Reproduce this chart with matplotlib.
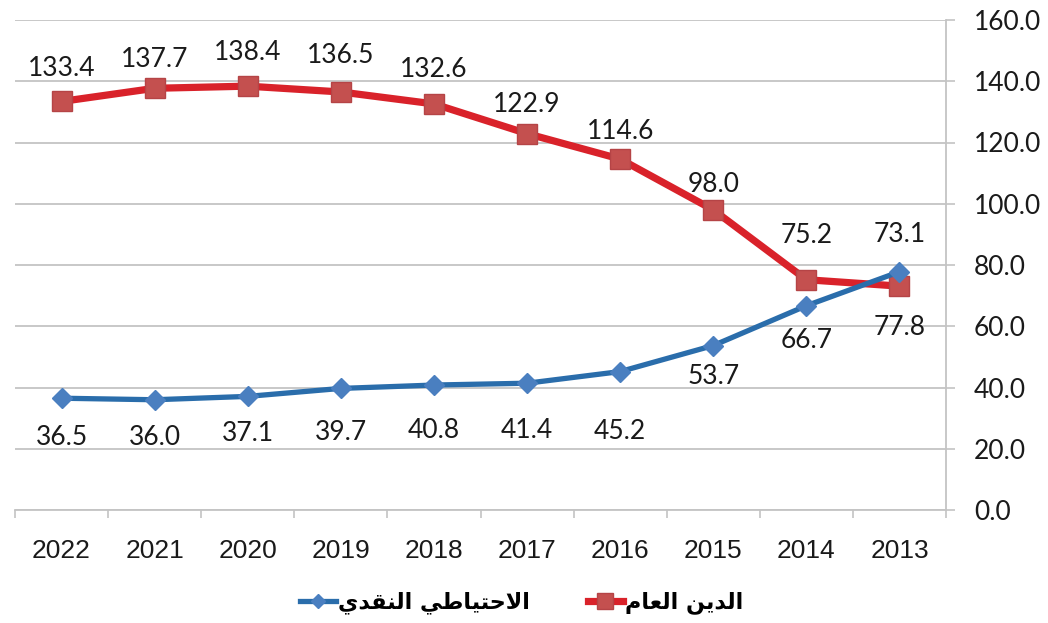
import numpy as np
import matplotlib
matplotlib.use('Agg')
import matplotlib.pyplot as plt

# السنوات (من اليسار إلى اليمين كما في الرسم)
years = ['2022', '2021', '2020', '2019', '2018', '2017', '2016', '2015', '2014', '2013']
# الدين العام
debt = [133.4, 137.7, 138.4, 136.5, 132.6, 122.9, 114.6, 98.0, 75.2, 73.1]
# الاحتياطي النقدي
reserve = [36.5, 36.0, 37.1, 39.7, 40.8, 41.4, 45.2, 53.7, 66.7, 77.8]

debt_name = 'الدين العام'
reserve_name = 'الاحتياطي النقدي'

# vertical offsets (points) of the value labels
debt_lab_dy = [24, 21, 24, 26, 25, 21, 20, 18, 32, 37]
reserve_lab_dy = [-28, -27, -27, -32, -33, -34, -43, -22, -25, -40]

# matplotlib doesn't shape Arabic, so map letters to presentation forms by hand
FORMS = {
    'ا': ('\ufe8d', '\ufe8e', None, None),
    'د': ('\ufea9', '\ufeaa', None, None),
    'ل': ('\ufedd', '\ufede', '\ufedf', '\ufee0'),
    'ي': ('\ufef1', '\ufef2', '\ufef3', '\ufef4'),
    'ن': ('\ufee5', '\ufee6', '\ufee7', '\ufee8'),
    'ع': ('\ufec9', '\ufeca', '\ufecb', '\ufecc'),
    'م': ('\ufee1', '\ufee2', '\ufee3', '\ufee4'),
    'ح': ('\ufea1', '\ufea2', '\ufea3', '\ufea4'),
    'ت': ('\ufe95', '\ufe96', '\ufe97', '\ufe98'),
    'ط': ('\ufec1', '\ufec2', '\ufec3', '\ufec4'),
    'ق': ('\ufed5', '\ufed6', '\ufed7', '\ufed8'),
}
LAM_ALEF = ('\ufefb', '\ufefc')


def shape(text):
    units = []
    i = 0
    while i < len(text):
        if text[i] == 'ل' and text[i + 1:i + 2] == 'ا':
            units.append('لا')
            i += 2
        else:
            units.append(text[i])
            i += 1

    def joins_next(u):
        return u in FORMS and FORMS[u][2] is not None

    def joins_prev(u):
        return u in FORMS or u == 'لا'

    out = []
    for k, u in enumerate(units):
        prev = units[k - 1] if k > 0 else None
        nxt = units[k + 1] if k + 1 < len(units) else None
        a = prev is not None and joins_next(prev) and joins_prev(u)
        b = nxt is not None and joins_next(u) and joins_prev(nxt)
        if u == 'لا':
            out.append(LAM_ALEF[1 if a else 0])
        elif u in FORMS:
            iso, fin, ini, med = FORMS[u]
            out.append(med if a and b else fin if a else ini if b else iso)
        else:
            out.append(u)
    return ''.join(reversed(out))


fig = plt.figure(figsize=(10.48, 6.23), dpi=100)
ax = fig.add_axes([15 / 1048, 1 - 510 / 623, (946 - 15) / 1048, 490 / 623])

x = np.arange(len(years))
grid_c = '#c4c4c4'

ax.plot(x, debt, color='#d9222a', lw=5.2, marker='s', ms=15,
        mfc='#c4504f', mec='#b54446', mew=1, zorder=3, label=shape(debt_name))
ax.plot(x, reserve, color='#2a6dab', lw=3.8, marker='D', ms=10,
        mfc='#4a7fc0', mec='#4a7fc0', zorder=4, label=shape(reserve_name))

lab_font = dict(family='Lato', size=19, color='#1a1a1a', ha='center', va='center')
for xi, v, dy in zip(x, debt, debt_lab_dy):
    ax.annotate(f'{v:.1f}', (xi, v), xytext=(0, dy), textcoords='offset points', **lab_font)
for xi, v, dy in zip(x, reserve, reserve_lab_dy):
    ax.annotate(f'{v:.1f}', (xi, v), xytext=(0, dy), textcoords='offset points', **lab_font)

ax.set_xlim(-0.5, len(years) - 0.5)
ax.set_ylim(0, 160)
ax.set_yticks(np.arange(0, 161, 20))
ax.set_yticklabels([f'{t:.1f}' for t in np.arange(0, 161, 20)], family='Lato', fontsize=19, color='#1a1a1a')
ax.yaxis.tick_right()
ax.tick_params(axis='y', length=6.5, width=1.2, color=grid_c, pad=13.5)
ax.grid(axis='y', color=grid_c, lw=1.3)
ax.set_axisbelow(True)

ax.set_xticks(x)
ax.set_xticklabels(years, family='Liberation Sans', fontsize=19, color='#1a1a1a')
ax.set_xticks(np.arange(-0.5, len(years), 1), minor=True)
ax.tick_params(axis='x', which='major', length=0, pad=21)
ax.tick_params(axis='x', which='minor', length=6, width=1.2, color=grid_c)

for side in ['left', 'top']:
    ax.spines[side].set_visible(False)
for side in ['right', 'bottom']:
    ax.spines[side].set_color(grid_c)
    ax.spines[side].set_linewidth(1.3)

h, l = ax.get_legend_handles_labels()
fig.legend(h[::-1], l[::-1], loc='center', bbox_to_anchor=(0.498, 0.032), ncol=2,
           frameon=False, prop=dict(family='DejaVu Sans', weight='bold', size=16),
           handlelength=1.6, handletextpad=0.1, columnspacing=2.6, markerscale=0.75)

fig.savefig('out.png', dpi=100)
